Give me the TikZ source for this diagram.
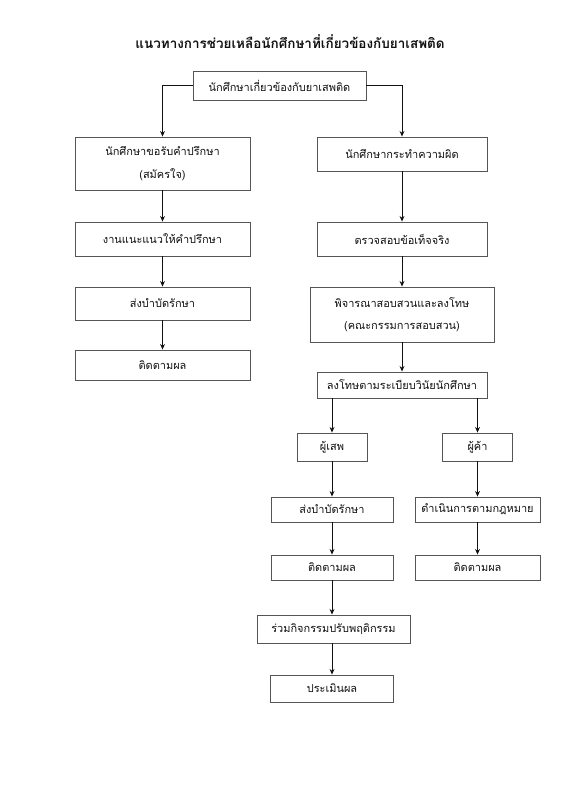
\documentclass[tikz,border=0pt]{standalone}
\usepackage{fontspec}
\newfontfamily\thaifont[Script=Thai]{Loma}
\usetikzlibrary{arrows.meta,positioning}

\begin{document}
\begin{tikzpicture}[x=0.025cm, y=-0.025cm, >=Stealth]
    % Parameters (pixel grid)
    \def\px{0.025cm}
    \def\colL{162.5}  % left column
    \def\colR{402}    % right column
    \def\colU{332}    % user branch
    \def\colD{477.5}  % dealer branch

    % Colors
    \definecolor{boxCol}{HTML}{555555}
    \definecolor{inkCol}{HTML}{111111}

    \tikzset{
        stepbox/.style={draw=boxCol, line width=0.6pt, align=center, inner sep=0pt,
            font=\thaifont\fontsize{7.8}{16}\selectfont, text=inkCol},
        flow/.style={->, line width=0.7pt, inkCol, >={Stealth[length=4pt,width=3.5pt]}}
    }

    \useasboundingbox (0,0) rectangle (566,800);

    % Title
    \node[font=\thaifont\bfseries\fontsize{9.6}{12}\selectfont, text=inkCol] (title) at (290,42)
        {แนวทางการช่วยเหลือนักศึกษาที่เกี่ยวข้องกับยาเสพติด};

    % Top
    \node[stepbox, minimum width=173*\px, minimum height=29*\px] (top) at (279.5,85.5)
        {นักศึกษาเกี่ยวข้องกับยาเสพติด};

    % Left column: voluntary counselling
    \node[stepbox, minimum width=175*\px, minimum height=53*\px] (L1) at (\colL,163.5)
        {นักศึกษาขอรับคำปรึกษา\\(สมัครใจ)};
    \node[stepbox, minimum width=175*\px, minimum height=34*\px] (L2) at (\colL,239)
        {งานแนะแนวให้คำปรึกษา};
    \node[stepbox, minimum width=175*\px, minimum height=33*\px] (L3) at (\colL,303.5)
        {ส่งบำบัดรักษา};
    \node[stepbox, minimum width=175*\px, minimum height=30*\px] (L4) at (\colL,365)
        {ติดตามผล};

    % Right column: offence
    \node[stepbox, minimum width=170*\px, minimum height=34*\px] (R1) at (\colR,154)
        {นักศึกษากระทำความผิด};
    \node[stepbox, minimum width=170*\px, minimum height=34*\px] (R2) at (\colR,239)
        {ตรวจสอบข้อเท็จจริง};
    \node[stepbox, minimum width=184*\px, minimum height=55*\px] (R3) at (\colR,314.5)
        {พิจารณาสอบสวนและลงโทษ\\(คณะกรรมการสอบสวน)};
    \node[stepbox, minimum width=170*\px, minimum height=26*\px] (R4) at (\colR,385)
        {ลงโทษตามระเบียบวินัยนักศึกษา};

    % Users / dealers
    \node[stepbox, minimum width=70*\px, minimum height=28*\px] (user) at (\colU,447) {ผู้เสพ};
    \node[stepbox, minimum width=70*\px, minimum height=28*\px] (dealer) at (\colD,447) {ผู้ค้า};

    \node[stepbox, minimum width=122*\px, minimum height=25*\px] (U1) at (\colU,509.5) {ส่งบำบัดรักษา};
    \node[stepbox, minimum width=122*\px, minimum height=25*\px] (U2) at (\colU,567.5) {ติดตามผล};
    \node[stepbox, minimum width=153*\px, minimum height=28*\px] (U3) at (333.5,629) {ร่วมกิจกรรมปรับพฤติกรรม};
    \node[stepbox, minimum width=123*\px, minimum height=27*\px] (U4) at (\colU,688.5) {ประเมินผล};

    \node[stepbox, minimum width=125*\px, minimum height=25*\px] (D1) at (\colD,509.5) {ดำเนินการตามกฎหมาย};
    \node[stepbox, minimum width=125*\px, minimum height=25*\px] (D2) at (\colD,567.5) {ติดตามผล};

    % Connectors
    \draw[flow] (top.west) -| (L1.north);
    \draw[flow] (top.east) -| (R1.north);

    \draw[flow] (L1) -- (L2);
    \draw[flow] (L2) -- (L3);
    \draw[flow] (L3) -- (L4);

    \draw[flow] (R1) -- (R2);
    \draw[flow] (R2) -- (R3);
    \draw[flow] (R3) -- (R4);
    \draw[flow] (R4.south -| user.north) -- (user.north);
    \draw[flow] (R4.south -| dealer.north) -- (dealer.north);

    \draw[flow] (user) -- (U1);
    \draw[flow] (U1) -- (U2);
    \draw[flow] (U2) -- (U2 |- U3.north);
    \draw[flow] (U4 |- U3.south) -- (U4);

    \draw[flow] (dealer) -- (D1);
    \draw[flow] (D1) -- (D2);
\end{tikzpicture}
\end{document}
